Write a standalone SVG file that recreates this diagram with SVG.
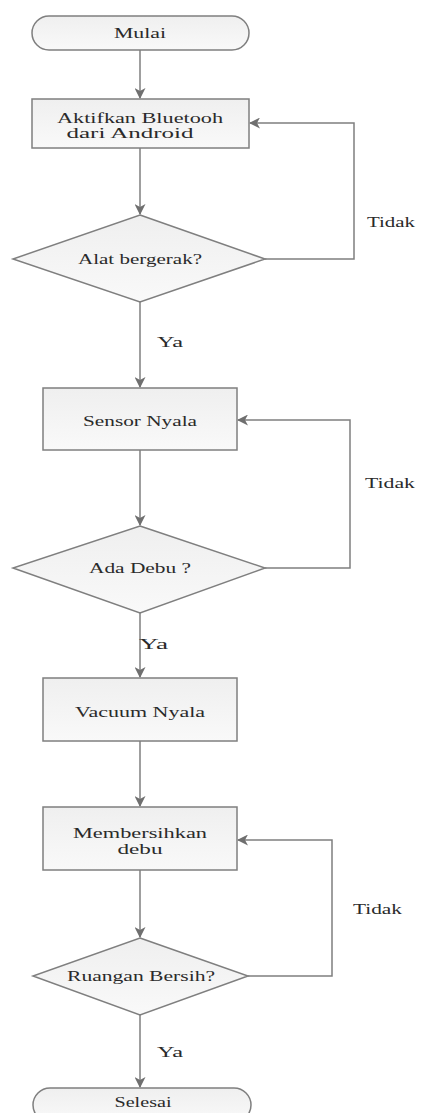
<svg xmlns="http://www.w3.org/2000/svg" width="425" height="1113" viewBox="0 0 425 1113">
<style>
.shape{fill:url(#g);stroke:#7f7f7f;stroke-width:1.5}
.lbl{text-anchor:middle}
.edge{fill:none;stroke:#7f7f7f;stroke-width:1.5}
</style>
<defs>
<linearGradient id="g" x1="0" y1="0" x2="0" y2="1">
<stop offset="0" stop-color="#efefef"/>
<stop offset="1" stop-color="#f9f9f9"/>
</linearGradient>
<marker id="ah" markerWidth="11" markerHeight="11" refX="10" refY="5.5" orient="auto" markerUnits="userSpaceOnUse">
<path d="M0,0 L11,5.5 L0,11 L3,5.5 Z" fill="#6f6f6f"/>
</marker>
</defs>
<g font-family="Liberation Serif, Times New Roman, DejaVu Serif, serif" font-size="15" fill="#2a2a2a">
<g id="connectors">
<path class="edge" d="M140,50 V98" marker-end="url(#ah)"/>
<path class="edge" d="M140,148 V214" marker-end="url(#ah)"/>
<path class="edge" d="M265,259 H354 V123 H250" marker-end="url(#ah)"/>
<path class="edge" d="M140,302 V387" marker-end="url(#ah)"/>
<path class="edge" d="M140,450 V525" marker-end="url(#ah)"/>
<path class="edge" d="M265,568 H350 V420 H238" marker-end="url(#ah)"/>
<path class="edge" d="M140,613 V677" marker-end="url(#ah)"/>
<path class="edge" d="M140,741 V806" marker-end="url(#ah)"/>
<path class="edge" d="M140,870 V937" marker-end="url(#ah)"/>
<path class="edge" d="M248,976 H332 V840 H238" marker-end="url(#ah)"/>
<path class="edge" d="M140,1015 V1087" marker-end="url(#ah)"/>
<text x="367" y="227" textLength="48" lengthAdjust="spacingAndGlyphs">Tidak</text>
<text x="157" y="347" textLength="26" lengthAdjust="spacingAndGlyphs">Ya</text>
<text x="365" y="488" textLength="50" lengthAdjust="spacingAndGlyphs">Tidak</text>
<text x="139" y="649" textLength="29" lengthAdjust="spacingAndGlyphs">Ya</text>
<text x="353" y="914" textLength="49" lengthAdjust="spacingAndGlyphs">Tidak</text>
<text x="157" y="1057" textLength="26" lengthAdjust="spacingAndGlyphs">Ya</text>
</g>
<g id="mulai">
<rect class="shape" x="32" y="16" width="217" height="34" rx="17"/>
<text class="lbl" x="140" y="38" textLength="52" lengthAdjust="spacingAndGlyphs">Mulai</text>
</g>
<g id="aktifkan">
<rect class="shape" x="32" y="99" width="217" height="49"/>
<text class="lbl" x="140" y="123" textLength="166" lengthAdjust="spacingAndGlyphs">Aktifkan Bluetooh</text>
<text class="lbl" x="130" y="138" textLength="127" lengthAdjust="spacingAndGlyphs">dari Android</text>
</g>
<g id="alat">
<polygon class="shape" points="140,215 265,259 140,302 13,259"/>
<text class="lbl" x="140" y="264" textLength="124" lengthAdjust="spacingAndGlyphs">Alat bergerak?</text>
</g>
<g id="sensor">
<rect class="shape" x="43" y="388" width="194" height="62"/>
<text class="lbl" x="140" y="426" textLength="114" lengthAdjust="spacingAndGlyphs">Sensor Nyala</text>
</g>
<g id="debu">
<polygon class="shape" points="140,526 265,568 140,613 13,568"/>
<text class="lbl" x="140" y="573" textLength="102" lengthAdjust="spacingAndGlyphs">Ada Debu ?</text>
</g>
<g id="vacuum">
<rect class="shape" x="43" y="678" width="194" height="63"/>
<text class="lbl" x="140" y="717" textLength="130" lengthAdjust="spacingAndGlyphs">Vacuum Nyala</text>
</g>
<g id="membersihkan">
<rect class="shape" x="43" y="807" width="194" height="63"/>
<text class="lbl" x="140" y="838" textLength="134" lengthAdjust="spacingAndGlyphs">Membersihkan</text>
<text class="lbl" x="140" y="854" textLength="45" lengthAdjust="spacingAndGlyphs">debu</text>
</g>
<g id="ruangan">
<polygon class="shape" points="140,938 248,976 140,1015 33,976"/>
<text class="lbl" x="141" y="981" textLength="148" lengthAdjust="spacingAndGlyphs">Ruangan Bersih?</text>
</g>
<g id="selesai">
<rect class="shape" x="33" y="1088" width="218" height="34" rx="17"/>
<text class="lbl" x="143" y="1107" textLength="57" lengthAdjust="spacingAndGlyphs">Selesai</text>
</g>
</g>
</svg>
